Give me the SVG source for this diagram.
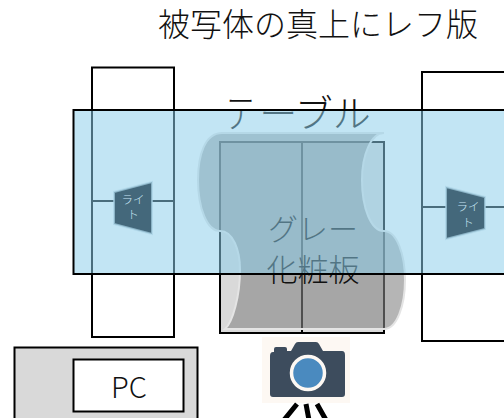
<svg xmlns="http://www.w3.org/2000/svg" width="504" height="418" viewBox="0 0 504 418">
<style>
text{font-family:"Noto Sans CJK JP","Noto Sans",sans-serif;fill:#111;text-anchor:middle;font-weight:300}
.box{fill:#fff;stroke:#000;stroke-width:2}
.line{fill:none;stroke:#000;stroke-width:2}
.lamp{fill:#44687b;stroke:#a9d3e6;stroke-width:2;stroke-opacity:.7}
.lt{fill:#c4e4f4;font-size:11.5px}
</style>
<rect width="504" height="418" fill="#fff"/>
<text x="318" y="36" font-size="32">被写体の真上にレフ版</text>
<g id="light-left-frame"><rect class="box" x="92" y="67.500" width="82" height="269.500"/></g>
<g id="light-right-frame"><rect class="box" x="422" y="72" width="84" height="269"/></g>
<g id="gray-board"><rect x="220" y="142" width="164" height="191" fill="#d9d9d9" stroke="#000" stroke-width="2"/>
<path d="M302 142V333" class="line"/></g>
<g id="connectors"><path class="line" d="M92 201H114M152 201H174M422 207H446M485 207H504"/></g>
<g id="reflector"><path d="M384 133H222C205 133 198 155 198 180C198 208 207 231 220 231C233 231 240 250 240 270C240 295 233 322 225 329H384C397 329 405 305 405 280C405 255 397 231 384 231C371 231 362 208 362 180C362 155 371 133 384 133Z" fill="#848484" fill-opacity=".6" stroke="#e4e4e4" stroke-width="2"/></g>
<text x="296" y="127" font-size="38">テーブル</text>
<text x="313" y="240" font-size="30">グレー</text>
<text x="313" y="281" font-size="31">化粧板</text>
<g id="table"><rect x="73.500" y="110" width="432" height="164" fill="#8ccdea" fill-opacity=".53"/>
<rect x="73.500" y="110" width="432" height="164" fill="none" stroke="#000" stroke-width="2"/></g>
<g id="light-left"><path class="lamp" d="M114 192L152 182V234L114 224Z"/>
<text class="lt" x="133" y="204">ライ</text><text class="lt" x="133" y="219">ト</text></g>
<g id="light-right"><path class="lamp" d="M446 187L485 197V229L446 239Z"/>
<text class="lt" x="468" y="211">ライ</text><text class="lt" x="468" y="227">ト</text></g>
<g id="pc"><rect x="14.500" y="347.500" width="183" height="80" fill="#d9d9d9" stroke="#000" stroke-width="2"/>
<rect class="box" x="73.500" y="359.500" width="110" height="52"/>
<text x="129" y="398" font-size="29">PC</text></g>
<g id="camera"><rect x="262" y="337" width="88" height="66" fill="#fdf8f3"/>
<path d="M273 352Q270 352 270 356V394Q270 397 273 397H342Q345 397 345 394V355Q345 351 342 351H323L319 344Q318 342 316 342H298Q296 342 295 344L291 351H287V349Q287 347 285 347H276Q274 347 274 349V352Z" fill="#3d4c5d"/>
<circle cx="308" cy="373" r="16.500" fill="#4a8abf" stroke="#fdf8f3" stroke-width="3.500"/>
<path d="M297 404L284 420M306 404L309 420M317 404L326 420" fill="none" stroke="#000" stroke-width="5"/></g>
</svg>
